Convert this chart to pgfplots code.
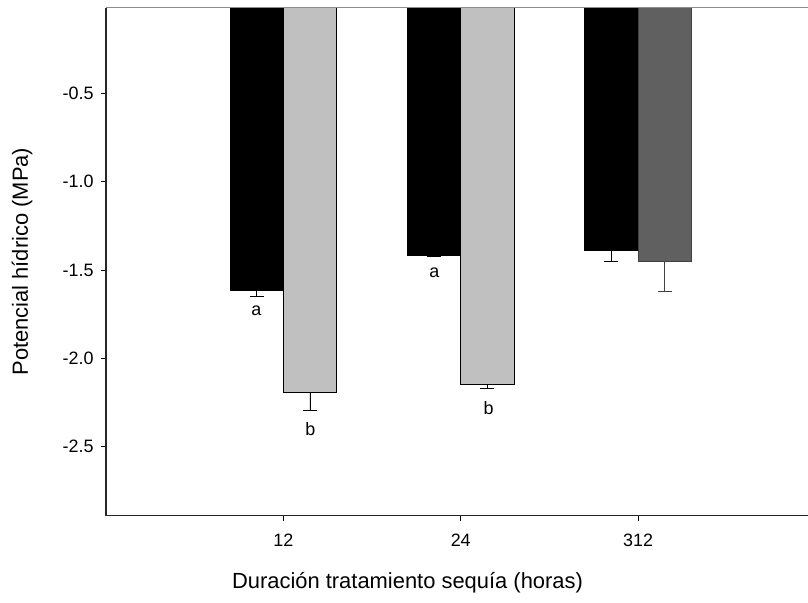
\documentclass[border=0pt]{standalone}
\usepackage{pgfplots}
\pgfplotsset{compat=1.18}
\usepackage{fontspec}
\setmainfont{Liberation Sans}
\definecolor{lgray}{RGB}{192,192,192}
\definecolor{dgray}{RGB}{96,96,96}
\definecolor{edgegray}{RGB}{64,64,64}
\begin{document}
\begin{tikzpicture}
\begin{axis}[
    name=ax,
    scale only axis,
    width=702bp, height=508bp,
    xmin=0, xmax=3.958,
    ymin=-2.89, ymax=-0.015,
    axis x line*=bottom, axis y line*=left,
    axis line style={-, line width=1.2bp, black!85},
    xtick={1,2,3}, xticklabels={12,24,312},
    ytick={-2.5,-2,-1.5,-1,-0.5},
    tick align=outside, major tick length=5bp,
    tick style={line width=0.9bp, black},
    /pgf/number format/assume math mode=true,
    yticklabel style={/pgf/number format/.cd, fixed, fixed zerofill, precision=1, /tikz/.cd, xshift=-4bp},
    xticklabel style={yshift=-10bp},
    tick label style={font=\fontsize{18}{20}\selectfont},
    ylabel={Potencial hídrico (MPa)},
    xlabel={Duración tratamiento sequía (horas)},
    label style={font=\fontsize{22}{24}\selectfont},
    ylabel style={at={(axis description cs:-0.1197,0.5)}, anchor=center},
    xlabel style={at={(axis description cs:0.4295,-0.1325)}, anchor=center},
    ybar, bar width=0.3,
]
% black series
\addplot[fill=black, draw=black, line width=0.8bp, bar shift=-0.15,
    error bars/.cd, y dir=minus, y explicit,
    error bar style={black, line width=0.9bp},
    error mark options={rotate=90, mark size=7bp, line width=0.9bp, black}]
coordinates {(1,-1.613) -= (0,0.034) (2,-1.415) -= (0,0.007) (3,-1.388) -= (0,0.061)};
% light gray series (12, 24 h)
\addplot[fill=lgray, draw=black, line width=0.8bp, bar shift=0.15,
    error bars/.cd, y dir=minus, y explicit,
    error bar style={black, line width=0.9bp},
    error mark options={rotate=90, mark size=7bp, line width=0.9bp, black}]
coordinates {(1,-2.194) -= (0,0.098) (2,-2.145) -= (0,0.024)};
% dark gray series (312 h)
\addplot[fill=dgray, draw=edgegray, line width=0.8bp, bar shift=0.15,
    error bars/.cd, y dir=minus, y explicit,
    error bar style={edgegray, line width=0.9bp},
    error mark options={rotate=90, mark size=7bp, line width=0.9bp, edgegray}]
coordinates {(3,-1.449) -= (0,0.173)};
\node[font=\fontsize{18}{20}\selectfont] at (axis cs:0.848,-1.732) {a};
\node[font=\fontsize{18}{20}\selectfont] at (axis cs:1.152,-2.40) {b};
\node[font=\fontsize{18}{20}\selectfont] at (axis cs:1.852,-1.517) {a};
\node[font=\fontsize{18}{20}\selectfont] at (axis cs:2.157,-2.281) {b};
\end{axis}
\draw[line width=0.9bp, black!45] (ax.north west) -- (ax.north east);
\pgfresetboundingbox
\path (-106bp,-87.3bp) rectangle (702bp,515.7bp);
\end{tikzpicture}
\end{document}
